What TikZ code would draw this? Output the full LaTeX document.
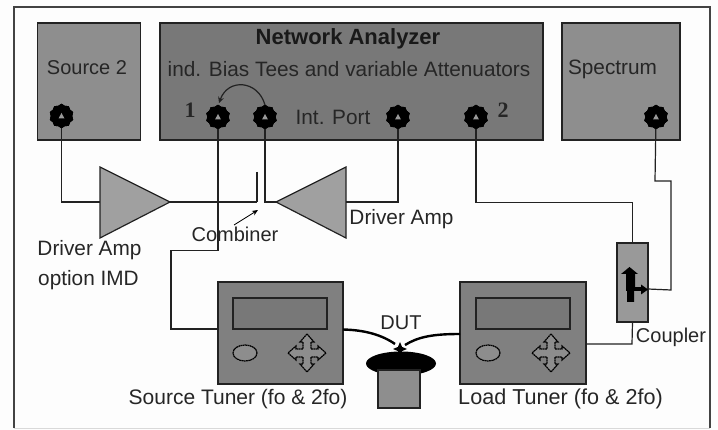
\documentclass[tikz,border=0pt]{standalone}
\usepackage{fontspec}
\setmainfont{Liberation Sans}
\newfontfamily\numfont{Liberation Serif}
\usetikzlibrary{shapes.geometric,arrows.meta,calc}
\definecolor{pagebg}{HTML}{FDFDFD}
\definecolor{instgray}{HTML}{8E8E8E}
\definecolor{nagray}{HTML}{787878}
\definecolor{tunergray}{HTML}{808080}
\definecolor{ampgray}{HTML}{A0A0A0}
\definecolor{coupgray}{HTML}{999999}
\definecolor{linegray}{HTML}{222222}
\tikzset{
  box/.style={draw=linegray,line width=1.3pt,inner sep=0pt,outer sep=0pt},
  wire/.style={draw=linegray,line width=1.2pt},
  lead/.style={draw=black,line width=2.4pt},
  lbl/.style={inner sep=0pt,font=\fontsize{20.8}{23}\selectfont,text=black!85},
  lblsm/.style={inner sep=0pt,font=\fontsize{20}{22}\selectfont,text=black!85},
  portnum/.style={inner sep=0pt,font=\numfont\bfseries\fontsize{22}{24}\selectfont,text=black!85},
  port/.style={star,star points=10,star point ratio=1.15,fill=black,draw=black,line width=0.4pt,
    minimum size=24pt,inner sep=0pt,outer sep=0pt},
  knobmark/.style={draw=black,line width=1.2pt,fill=tunergray!90!white,dash pattern=on 1.8pt off 0.5pt},
}
\newcommand{\portmark}[1]{\fill[black!40] ($(#1)+(-3,2.5)$) -- ($(#1)+(0,-3)$) -- ($(#1)+(3,2.5)$) -- cycle;}
\newcommand{\crossmark}[1]{\draw[knobmark,shift={(#1)}] (0,-19) -- (7,-11) -- (4,-11) -- (4,-4) -- (11,-4) -- (11,-7) -- (19,0) -- (11,7) -- (11,4) -- (4,4) -- (4,11) -- (7,11) -- (0,19) -- (-7,11) -- (-4,11) -- (-4,4) -- (-11,4) -- (-11,7) -- (-19,0) -- (-11,-7) -- (-11,-4) -- (-4,-4) -- (-4,-11) -- (-7,-11) -- cycle;}
\begin{document}
\begin{tikzpicture}[x=1pt,y=-1pt]
\useasboundingbox (0,0) rectangle (718,430);
\fill[pagebg] (0,0) rectangle (718,430);
\draw[draw=linegray!85!white,line width=1.2pt] (14,428) -- (14,7) -- (710,7) -- (710,428);
\draw[draw=black!15,line width=1pt] (14,428) -- (710,428);

% instruments
\node[box,fill=instgray,minimum width=102.5pt,minimum height=117pt] (src) at (89,81.5) {};
\node[box,fill=nagray,minimum width=383pt,minimum height=117pt] (na) at (351.5,81.5) {};
\node[box,fill=instgray,minimum width=118pt,minimum height=117pt] (spec) at (621,81.5) {};

% tuners
\node[box,fill=tunergray,minimum width=125pt,minimum height=102pt] (st) at (280.5,333) {};
\node[box,fill=nagray,minimum width=94pt,minimum height=31pt] (sd) at (280,313.5) {};
\node[box,fill=tunergray,minimum width=126pt,minimum height=102pt] (lt) at (523,333) {};
\node[box,fill=nagray,minimum width=94pt,minimum height=31pt] (ld) at (523,313.5) {};
\node[knobmark,ellipse,minimum width=24pt,minimum height=16pt,inner sep=0pt] (sk) at (245,353) {};
\node[knobmark,ellipse,minimum width=24pt,minimum height=16pt,inner sep=0pt] (lk) at (488,353) {};
\coordinate (sc) at (307,353);
\coordinate (lc) at (551,353);
\crossmark{sc}
\crossmark{lc}

% coupler
\node[box,fill=coupgray,minimum width=31pt,minimum height=79pt] (cp) at (632.5,282.5) {};

% ports
\node[port] (p0) at (61.5,116) {};
\node[port] (p1) at (218,117) {};
\node[port] (p3) at (265,117) {};
\node[port] (p4) at (398,117) {};
\node[port] (p2) at (476,117) {};
\node[port] (p5) at (656,117) {};

% amplifiers
\coordinate (a1in) at (100,202);
\coordinate (a1out) at (170,202);
\coordinate (a2in) at (346,202);
\coordinate (a2out) at (276,202);
\coordinate (cmbtop) at (257,172);
\coordinate (cmbbot) at (257,202);
\filldraw[fill=ampgray,draw=linegray,line width=1.2pt,line join=miter] (a1in |- 0,167) -- (a1out) -- (a1in |- 0,238) -- cycle;
\filldraw[fill=ampgray,draw=linegray,line width=1.2pt,line join=miter] (a2in |- 0,167) -- (a2out) -- (a2in |- 0,238) -- cycle;

% wiring
\draw[wire] (p0.center) |- (a1in);
\draw[wire] (a1out) -- (cmbbot);
\draw[wire,line width=1.4pt] (cmbtop) -- (cmbbot);
\draw[wire] (p3.center) |- (a2out);
\draw[wire] (p4.center) |- (a2in);
\draw[wire] (p1.center) -- (218,250.5) -- (171,250.5) -- (171,329) -- (st.west |- 0,329);
\draw[wire] (p2.center) -- (476,202.5) -- (cp.north |- 0,202.5) -- (cp.north);
\draw[wire] (cp.south) -- (632,344) -- (lt.east |- 0,344);
\coordinate (cpo) at (648,289);
\draw[wire] (p5.center) -- (655,181) -- (671,181) -- (671,290) -- (cpo);
\foreach \p in {p0,p1,p3,p4,p2,p5} {\node[port] at (\p) {}; \portmark{\p}}

% loop between ports and combiner pointer
\draw[wire,-{Stealth[length=6pt,width=6pt]}] (p3.north) .. controls (258,80) and (228,78) .. (219,103);
\coordinate (cmbptr) at (258,210);
\node[lblsm] (cmblbl) at (235,234) {Combiner};
\draw[draw=black,line width=0.8pt,-{Stealth[length=6pt,width=5pt]}] (234,225) -- (cmbptr);

% coupler arrows
\fill[black] (629.5,267) -- (638,274) -- (635,274) -- (635,291) -- (634,291) -- (634,302) -- (627,302) -- (627,291) -- (626,291) -- (626,274) -- (621,274) -- cycle;
\draw[black,line width=4pt] (633,289.5) -- (642,289.5);
\fill[black] (648,289.5) -- (641,284.5) -- (641,294.5) -- cycle;

% DUT
\node[ellipse,fill=black,minimum width=70pt,minimum height=24pt,inner sep=0pt] (dut) at (401,363.5) {};
\node[box,fill=instgray,minimum width=42pt,minimum height=38pt] (dutb) at (399,389) {};
\node[star,star points=4,star point ratio=2.4,fill=black,minimum size=14pt,inner sep=0pt] (dutc) at (400,349) {};
\draw[lead] (st.east |- 0,329.5) .. controls (365,330) and (382,335) .. (395,344);
\draw[lead] (lt.west |- 0,334) .. controls (432,334) and (418,337) .. (405,345);

% labels
\node[inner sep=0pt,font=\bfseries\fontsize{22}{24}\selectfont,text=black!90] (t1) at (348,39) {Network Analyzer};
\node[lbl] (t2) at (349,69) {ind. Bias Tees and variable Attenuators};
\node[lblsm] (t3) at (87,68) {Source 2};
\node[lbl] (t4) at (612.5,69) {Spectrum};
\node[lbl] (t5) at (333,117) {Int. Port};
\node[portnum] (t6) at (190,110) {1};
\node[portnum] (t7) at (503,110) {2};
\node[lbl] (t8) at (89.5,250) {Driver Amp};
\node[lbl] (t9) at (88.5,280) {option IMD};
\node[lbl] (t10) at (401.5,219) {Driver Amp};
\node[lblsm] (t11) at (401,323) {DUT};
\node[inner sep=0pt,font=\fontsize{21}{23}\selectfont,text=black!85] (t12) at (238,399) {Source Tuner (fo \& 2fo)};
\node[inner sep=0pt,font=\fontsize{21.6}{23}\selectfont,text=black!85] (t13) at (560.5,399) {Load Tuner (fo \& 2fo)};
\node[lblsm] (t14) at (671,337) {Coupler};
\end{tikzpicture}
\end{document}
